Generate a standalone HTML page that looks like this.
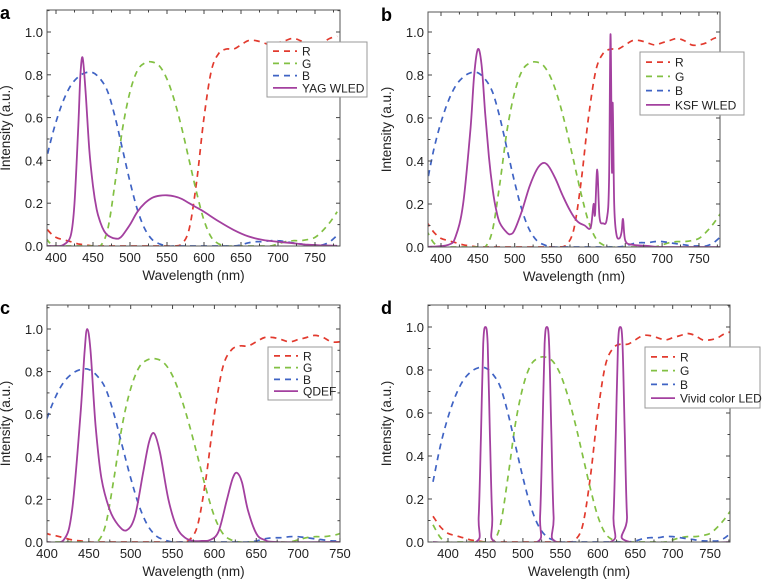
<!DOCTYPE html>
<html><head><meta charset="utf-8"><style>
body{margin:0;background:#fff;}
svg{display:block;font-family:"Liberation Sans",Arial,sans-serif;}
</style></head><body>
<svg id="fig" width="769" height="580" viewBox="0 0 769 580"></svg>
<script>
const wl = [380,390,400,410,420,430,440,450,460,470,480,490,500,510,520,530,540,550,560,570,580,590,600,610,620,630,640,650,660,670,680,690,700,710,720,730,740,750,760,770,780];
const filterB = [0.28,0.45,0.58,0.68,0.75,0.79,0.81,0.81,0.78,0.72,0.6,0.45,0.3,0.17,0.08,0.03,0.01,0,0,0,0,0,0,0,0,0,0,0.005,0.015,0.02,0.02,0.025,0.025,0.02,0.015,0.01,0.005,0.005,0.005,0.02,0.05];
const filterG = [0.08,0.02,0,0,0,0,0,0,0,0.08,0.3,0.55,0.72,0.82,0.855,0.86,0.84,0.78,0.68,0.55,0.4,0.25,0.12,0.04,0.01,0,0,0,0,0,0,0,0.01,0.02,0.025,0.025,0.03,0.04,0.07,0.11,0.16];
const filterR = [0.12,0.07,0.04,0.03,0.02,0.01,0.005,0,0,0,0,0,0,0,0,0,0,0,0,0.01,0.08,0.3,0.6,0.82,0.9,0.92,0.92,0.94,0.96,0.96,0.95,0.94,0.95,0.96,0.97,0.96,0.94,0.94,0.95,0.97,0.98];

const yagWl = [380,400,410,420,425,430,433,436,440,445,450,455,460,465,470,475,480,485,490,500,510,520,530,540,550,560,570,580,590,600,620,640,660,680,700,720,740,760,780];
const yagI  = [0,0,0.005,0.05,0.2,0.55,0.8,0.88,0.72,0.45,0.28,0.17,0.11,0.07,0.05,0.04,0.035,0.035,0.05,0.1,0.16,0.2,0.225,0.235,0.237,0.232,0.22,0.2,0.18,0.16,0.115,0.075,0.045,0.028,0.02,0.013,0.006,0.003,0.001];

const ksfWl = [380,410,420,430,440,445,450,455,460,465,470,475,480,490,495,500,510,520,530,538,545,555,565,575,585,595,603,607,609,612,615,620,625,628,630,632,633,635,638,642,645,647,650,660,680,700,780];
const ksfI  = [0,0.01,0.05,0.2,0.55,0.8,0.92,0.85,0.62,0.42,0.27,0.17,0.11,0.065,0.06,0.08,0.17,0.28,0.36,0.39,0.38,0.32,0.24,0.17,0.12,0.1,0.09,0.2,0.15,0.36,0.14,0.11,0.13,0.3,0.99,0.35,0.67,0.2,0.06,0.04,0.07,0.13,0.03,0.01,0.005,0,0];

const qdWl = [400,420,430,440,445,448,452,458,465,475,485,495,505,515,522,528,535,545,555,565,575,585,595,605,615,622,627,633,640,650,660,675,750];
const qdI  = [0,0.01,0.15,0.6,0.9,1.0,0.9,0.55,0.3,0.15,0.08,0.055,0.12,0.33,0.47,0.51,0.42,0.2,0.07,0.02,0.005,0.005,0.01,0.05,0.2,0.3,0.325,0.28,0.15,0.04,0.01,0,0];

const vivWl = [380,437,441,444,447,450,453,456,459,463,519,523,526,529,532,535,538,541,545,617,621,624,627,630,633,636,639,643,780];
const vivI  = [0,0,0.12,0.5,0.92,1.0,0.92,0.5,0.12,0,0,0.12,0.5,0.92,1.0,0.92,0.5,0.12,0,0,0.12,0.5,0.92,1.0,0.92,0.5,0.12,0,0];

const yTicks = [0,0.2,0.4,0.6,0.8,1.0];
const yTickLabels = ["0.0","0.2","0.4","0.6","0.8","1.0"];
const xTicksA = [400,450,500,550,600,650,700,750];
const xTicksC = [400,450,500,550,600,650,700,750];

const NS="http://www.w3.org/2000/svg";
const svg=document.getElementById('fig');
function mk(tag,attrs,parent){const e=document.createElementNS(NS,tag);for(const k in attrs)e.setAttribute(k,attrs[k]);(parent||svg).appendChild(e);return e;}
function smooth(pts){
  let d='M'+pts[0][0].toFixed(1)+','+pts[0][1].toFixed(1);
  for(let i=0;i<pts.length-1;i++){
    const p0=pts[i-1]||pts[i],p1=pts[i],p2=pts[i+1],p3=pts[i+2]||p2;
    const c1x=p1[0]+(p2[0]-p0[0])/6,c1y=p1[1]+(p2[1]-p0[1])/6;
    const c2x=p2[0]-(p3[0]-p1[0])/6,c2y=p2[1]-(p3[1]-p1[1])/6;
    d+='C'+c1x.toFixed(1)+','+c1y.toFixed(1)+' '+c2x.toFixed(1)+','+c2y.toFixed(1)+' '+p2[0].toFixed(1)+','+p2[1].toFixed(1);
  }
  return d;
}

const panels=[
 {id:'a',x400:56,s:0.74,L:47,R:340,T:10,y0:246,y1:32,led:[yagWl,yagI],name:'YAG WLED',lg:[267,42,100,55],xt:xTicksA},
 {id:'b',x400:441,s:0.737,L:428,R:720,T:12,y0:247,y1:32,led:[ksfWl,ksfI],name:'KSF WLED',lg:[640,52,104,63],xt:xTicksA},
 {id:'c',x400:47,s:0.837,L:47,R:340,T:305,y0:542,y1:329,led:[qdWl,qdI],name:'QDEF',lg:[268,347,64,53],xt:xTicksC},
 {id:'d',x400:448,s:0.749,L:428,R:730,T:305,y0:542,y1:327,led:[vivWl,vivI],name:'Vivid color LED',lg:[645,347,115,61],xt:xTicksA}
];

panels.forEach(p=>{
  const g=mk('g',{});
  
  
  const X=w=>p.x400+(w-400)*p.s;
  const Y=v=>p.y0-(p.y0-p.y1)*v;
  const cid='clip'+p.id;
  const cp=mk('clipPath',{id:cid},g);mk('rect',{x:p.L,y:p.T,width:p.R-p.L,height:p.y0-p.T},cp);
  const series=[[filterR,'#e23a2e','filter-r'],[filterG,'#82c043','filter-g'],[filterB,'#3f63c4','filter-b']];
  series.forEach(([arr,c,n])=>{
    const d=smooth(wl.map((w,i)=>[X(w),Y(arr[i])]));
    const pa=mk('path',{d:d,fill:'none',stroke:c,'stroke-width':1.7,'stroke-dasharray':'6,5','clip-path':'url(#'+cid+')'},g);
    
    
  });
  const [lw,li]=p.led;
  const d=smooth(lw.map((w,i)=>[X(w),Y(li[i])]));
  const lp=mk('path',{d:d,fill:'none',stroke:'#a3409f','stroke-width':1.8,'clip-path':'url(#'+cid+')'},g);
  
  
  const fr=mk('rect',{x:p.L,y:p.T,width:p.R-p.L,height:p.y0-p.T,fill:'none',stroke:'#555','stroke-width':1},g);
  
  
  p.xt.forEach(t=>{
    const x=X(t);
    mk('line',{x1:x,x2:x,y1:p.y0,y2:p.y0-4,stroke:'#444'},g);
    mk('line',{x1:x,x2:x,y1:p.T,y2:p.T+4,stroke:'#444'},g);
    const mx=X(t+25); if(mx<p.R){mk('line',{x1:mx,x2:mx,y1:p.y0,y2:p.y0-2.5,stroke:'#444'},g);mk('line',{x1:mx,x2:mx,y1:p.T,y2:p.T+2.5,stroke:'#444'},g);}
    const tx=mk('text',{x:x,y:p.y0+16,'font-size':13,'text-anchor':'middle',fill:'#222'},g);
    tx.textContent=t;
    
    
  });
  yTicks.forEach((t,i)=>{
    const y=Y(t);
    mk('line',{x1:p.L,x2:p.L+4,y1:y,y2:y,stroke:'#444'},g);
    mk('line',{x1:p.R,x2:p.R-4,y1:y,y2:y,stroke:'#444'},g);
    const my=Y(t+0.1); if(my>p.T){mk('line',{x1:p.L,x2:p.L+2.5,y1:my,y2:my,stroke:'#444'},g);mk('line',{x1:p.R,x2:p.R-2.5,y1:my,y2:my,stroke:'#444'},g);}
    const tx=mk('text',{x:p.L-4,y:y+5,'font-size':13,'text-anchor':'end',fill:'#222'},g);
    tx.textContent=yTickLabels[i];
    
    
  });
  const xt=mk('text',{x:(p.L+p.R)/2,y:p.y0+34,'font-size':13.5,'text-anchor':'middle',fill:'#222'},g);
  xt.textContent='Wavelength (nm)';
  
  
  const yx=p.L-37, yy=(p.T+p.y0)/2;
  const yt=mk('text',{x:yx,y:yy,'font-size':13.5,'text-anchor':'middle',fill:'#222',transform:'rotate(-90 '+yx+' '+yy+')'},g);
  yt.textContent='Intensity (a.u.)';
  
  
  const pl=mk('text',{x:p.L-47,y:p.T+9,'font-size':18,'font-weight':'bold',fill:'#000'},g);
  pl.textContent=p.id;
  
  
  const [lx,ly,lwid,lh]=p.lg;
  const lg=mk('g',{},g);
  
  
  mk('rect',{x:lx,y:ly,width:lwid,height:lh,fill:'#fff',stroke:'#999'},lg);
  const ents=[['R','#e23a2e',true],['G','#82c043',true],['B','#3f63c4',true],[p.name,'#a3409f',false]];
  const step=(lh-6)/4;
  ents.forEach((e,i)=>{
    const ey=ly+3+step*(i+0.5);
    const ent=mk('g',{},lg);
    
    
    mk('line',{x1:lx+6,x2:lx+30,y1:ey,y2:ey,stroke:e[1],'stroke-width':1.8,'stroke-dasharray':e[2]?'6,5':'none'},ent);
    const t=mk('text',{x:lx+35,y:ey+4.5,'font-size':12,fill:'#222'},ent);
    t.textContent=e[0];
  });
});
</script>
</body></html>
